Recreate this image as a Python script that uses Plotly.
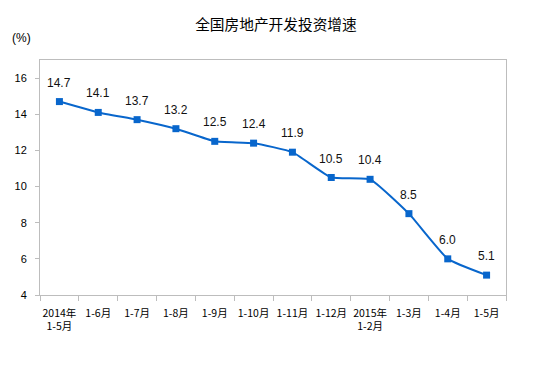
import plotly.graph_objects as go

categories = ["2014年<br>1-5月", "1-6月", "1-7月", "1-8月", "1-9月", "1-10月", "1-11月",
              "1-12月", "2015年<br>1-2月", "1-3月", "1-4月", "1-5月"]
values = [14.7, 14.1, 13.7, 13.2, 12.5, 12.4, 11.9, 10.5, 10.4, 8.5, 6.0, 5.1]
labels = ["14.7", "14.1", "13.7", "13.2", "12.5", "12.4", "11.9", "10.5", "10.4", "8.5", "6.0", "5.1"]
y_ticks = [4, 6, 8, 10, 12, 14, 16]

font_family = "Noto Sans CJK SC, SimSun, sans-serif"
num_font = "Arial, Liberation Sans, sans-serif"

fig = go.Figure()
fig.add_trace(go.Scatter(
    x=categories, y=values,
    mode="lines+markers",
    line=dict(color="#0866CC", width=2, shape="spline", smoothing=0.4),
    marker=dict(symbol="square", size=7, color="#0866CC"),
    cliponaxis=False,
))

annotations = [dict(x=c, y=v, text=t, xref="x", yref="y", showarrow=False,
                    yshift=19, xanchor="center", yanchor="middle",
                    font=dict(family=num_font, size=12, color="#111111"))
               for c, v, t in zip(categories, values, labels)]
annotations.append(dict(text="(%)", xref="paper", yref="paper", x=-0.039, y=1.094,
                        xanchor="center", yanchor="middle", showarrow=False,
                        font=dict(family=num_font, size=12, color="black")))

fig.update_layout(
    width=538, height=358,
    margin=dict(l=32, r=40, t=52, b=71),
    paper_bgcolor="white", plot_bgcolor="white",
    showlegend=False,
    title=dict(text="全国房地产开发投资增速", x=0.498, xanchor="center", y=0.9525, yanchor="middle",
               font=dict(family=font_family, size=14.7, color="black")),
    font=dict(family=font_family, size=11, color="black"),
    annotations=annotations,
)
fig.update_xaxes(
    type="category", range=[-0.5, len(categories) - 0.5],
    showgrid=False, showline=True, linecolor="#BDBDBD", linewidth=1,
    mirror=True, ticks="outside", tickcolor="#BDBDBD", ticklen=5,
    tickson="boundaries", tickangle=0, automargin=False, ticklabelstandoff=8,
    tickfont=dict(family=font_family, size=10.5, color="black"),
)
fig.update_yaxes(
    range=[4, 17], tickvals=y_ticks, showgrid=False, zeroline=False,
    showline=True, linecolor="#BDBDBD", linewidth=1, mirror=True,
    ticks="outside", tickcolor="#BDBDBD", ticklen=4, automargin=False,
    ticklabelstandoff=6,
    tickfont=dict(family=num_font, size=11, color="black"),
)

fig.write_html("out.html")
